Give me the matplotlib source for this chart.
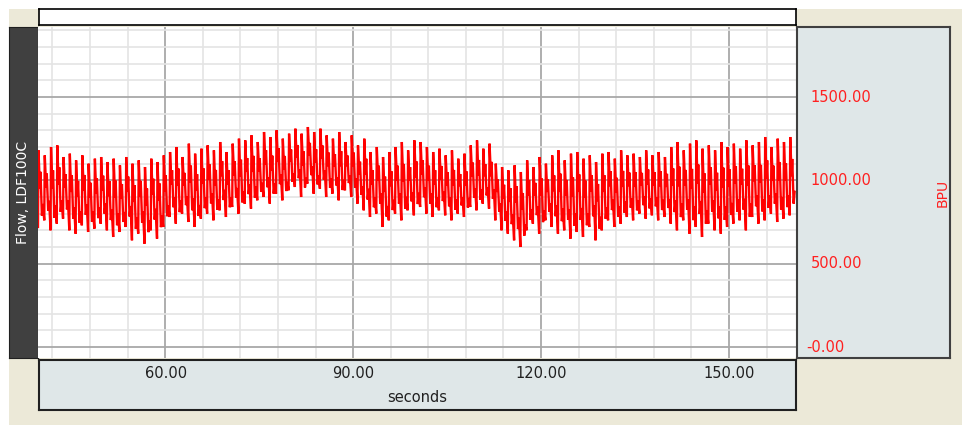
import matplotlib
matplotlib.use("Agg")
import matplotlib.pyplot as plt
import numpy as np

# %% Data (one value per heartbeat, ~1 s apart)
t_start = 39.7
beat_period = 1.0
beat_peak = [
    1180, 1150, 1200, 1210, 1140,
    1160, 1120, 1150, 1100, 1130, 1140,
    1110, 1130, 1090, 1140, 1100, 1120, 1080, 1130, 1110, 1150,
    1170, 1200, 1140, 1220, 1160, 1190,
    1210, 1180, 1230, 1170, 1220, 1250,
    1240, 1270, 1230, 1290, 1260, 1300, 1250, 1280,
    1310, 1280, 1320, 1290, 1310, 1270,
    1250, 1290, 1230, 1270,
    1210, 1250, 1170, 1200, 1140, 1170,
    1200, 1230, 1180, 1240,
    1230, 1200, 1170, 1190, 1150, 1180, 1130, 1160,
    1210, 1240, 1190, 1220,
    1100, 1080, 1060, 1090, 1050,
    1120, 1080, 1140, 1100,
    1150, 1180, 1120, 1160, 1170, 1130, 1150, 1110, 1160,
    1170, 1130, 1180, 1150, 1160, 1140, 1180, 1150, 1170, 1140,
    1200, 1230, 1180, 1220, 1240, 1190, 1210, 1180, 1230, 1200,
    1220, 1190, 1240, 1210, 1230, 1260, 1200, 1250, 1230, 1260,
]
beat_trough = [
    720, 760, 700, 740, 770,
    700, 680, 730, 690, 710, 740,
    700, 660, 690, 720, 640, 680, 620, 700, 650, 720,
    780, 740, 800, 750, 720, 770,
    800, 760, 820, 780, 840, 800,
    860, 830, 880, 900, 860, 920, 880, 940,
    960, 900, 980, 920, 950, 900,
    920, 880, 940, 900,
    860, 820, 780, 800, 720, 760,
    800, 760, 820, 790,
    840, 800, 780, 820, 790, 760, 800, 780,
    840, 820, 860, 830,
    760, 700, 680, 640, 600,
    700, 740, 680, 760,
    720, 680, 700, 650, 690, 660, 720, 640, 700,
    760, 720, 740, 780, 760, 800, 770, 790, 760, 780,
    740, 700, 760, 680, 720, 660, 740, 700, 680, 720,
    740, 760, 700, 780, 740, 760, 800, 750, 770, 790,
]
# shape of one beat: (fraction of period, fraction of peak-trough range)
beat_shape_t = [0.0, 0.08, 0.30, 0.40, 0.62, 0.78]
beat_shape_v = [0.0, 1.0, 0.50, 0.72, 0.15, 0.30]

x_ticks = [60, 90, 120, 150]
x_ticklabels = ["60.00", "90.00", "120.00", "150.00"]
y_ticks = [0, 500, 1000, 1500]
y_ticklabels = ["-0.00", "500.00", "1000.00", "1500.00"]
x_label = "seconds"
y_label_left = "Flow, LDF100C"
y_label_right = "BPU"

xlim = (39.7, 160.7)
ylim = (-66, 1920)

# %% Build trace
tt, vv = [], []
for i, (p, tr) in enumerate(zip(beat_peak, beat_trough)):
    t0 = t_start + i * beat_period
    for ft, fv in zip(beat_shape_t, beat_shape_v):
        tt.append(t0 + ft * beat_period)
        vv.append(tr + fv * (p - tr))
tt = np.array(tt)
vv = np.array(vv)

# %% Figure layout in pixels
W, H = 968, 428
fig = plt.figure(figsize=(W / 100, H / 100), dpi=100, facecolor="white")


def box(x0, y0, x1, y1):
    return [x0 / W, 1 - y1 / H, (x1 - x0) / W, (y1 - y0) / H]


beige = "#ECE9D8"
panel = "#DFE7E8"
dark = "#404040"
red = "#FF2020"

# beige background behind everything
ax_bg = fig.add_axes(box(9, 9, 962, 425), zorder=-10)
ax_bg.set_facecolor(beige)
ax_bg.set_xticks([])
ax_bg.set_yticks([])
for s in ax_bg.spines.values():
    s.set_visible(False)

# top white strip
ax_top = fig.add_axes(box(39, 9, 796, 25))
ax_top.set_xticks([])
ax_top.set_yticks([])
ax_top.set_facecolor("white")
for s in ax_top.spines.values():
    s.set_color("black")
    s.set_linewidth(1.2)

# left dark panel
ax_left = fig.add_axes(box(9, 27, 38, 358))
ax_left.set_facecolor(dark)
ax_left.set_xticks([])
ax_left.set_yticks([])
for s in ax_left.spines.values():
    s.set_color("#202020")
ax_left.text(0.5, 0.5, y_label_left, rotation=90, color="white", fontsize=10,
             ha="center", va="center", transform=ax_left.transAxes)

# main plot
ax = fig.add_axes(box(38, 27, 796, 358))
ax.set_facecolor("white")
ax.set_xlim(*xlim)
ax.set_ylim(*ylim)
ax.set_xticks(x_ticks)
ax.set_xticks(np.arange(42, 161, 6), minor=True)
ax.set_yticks(y_ticks)
ax.set_yticks(np.arange(0, 1901, 100), minor=True)
ax.grid(True, which="minor", color="#E4E4E4", lw=1.2)
ax.grid(True, which="major", color="#A8A8A8", lw=1.3)
ax.set_axisbelow(True)
ax.tick_params(which="both", length=0, labelbottom=False, labelleft=False)
for s in ax.spines.values():
    s.set_visible(False)
ax.plot(tt, vv, color="#FF0000", lw=1.7, solid_joinstyle="miter")

# right panel with value labels
ax_r = fig.add_axes(box(797, 27, 950, 358))
ax_r.set_facecolor(panel)
ax_r.set_ylim(*ylim)
ax_r.set_xlim(0, 1)
ax_r.set_xticks([])
ax_r.set_yticks([])
for s in ax_r.spines.values():
    s.set_color(dark)
    s.set_linewidth(1.5)
for val, lab in zip(y_ticks, y_ticklabels):
    xp = 0.06 if lab.startswith("-") else 0.09
    ax_r.text(xp, val, lab, color=red, fontsize=10.5, ha="left", va="center")
ax_r.text(0.95, 0.5, y_label_right, rotation=90, color=red, fontsize=10,
          ha="center", va="center", transform=ax_r.transAxes)

# bottom panel with time labels
ax_b = fig.add_axes(box(39, 360, 796, 410))
ax_b.set_facecolor(panel)
ax_b.set_xlim(*xlim)
ax_b.set_ylim(0, 1)
ax_b.set_xticks([])
ax_b.set_yticks([])
for s in ax_b.spines.values():
    s.set_color("#202020")
    s.set_linewidth(1.5)
for val, lab in zip(x_ticks, x_ticklabels):
    ax_b.text(val, 0.72, lab, color="#202020", fontsize=10.5, ha="center", va="center")
ax_b.text(0.5, 0.25, x_label, color="#202020", fontsize=10.5, ha="center", va="center",
          transform=ax_b.transAxes)

fig.savefig("out.png", dpi=100, facecolor=fig.get_facecolor())
